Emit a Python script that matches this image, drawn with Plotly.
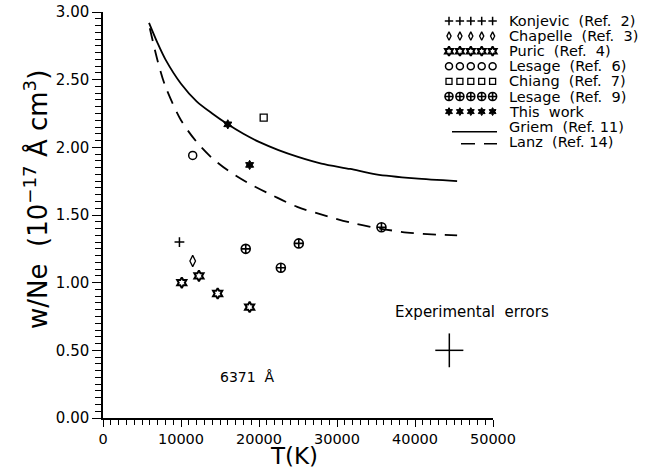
import plotly.graph_objects as go

# ---------------- data ----------------
konjevic_T = [9800]
konjevic_w = [1.30]
chapelle_T = [11500]
chapelle_w = [1.16]
puric_T = [10100, 12300, 14700, 18800]
puric_w = [1.00, 1.05, 0.92, 0.82]
lesage6_T = [11500]
lesage6_w = [1.94]
chiang_T = [20600]
chiang_w = [2.22]
lesage9_T = [18300, 22800, 25100, 35700]
lesage9_w = [1.25, 1.11, 1.29, 1.41]
thiswork_T = [16000, 18800]
thiswork_w = [2.17, 1.87]

griem_T = [5900, 7000, 8000, 10000, 12000, 14000, 16000, 18000, 20000, 22500, 25000, 28000, 31700, 35000, 40000, 45400]
griem_w = [2.92, 2.77, 2.65, 2.47, 2.34, 2.25, 2.17, 2.10, 2.04, 1.98, 1.93, 1.88, 1.84, 1.80, 1.77, 1.75]
lanz_T = [6000, 7000, 8000, 10000, 12000, 14000, 16000, 18500, 21900, 24900, 28800, 32000, 35500, 39000, 42800, 45400]
lanz_w = [2.88, 2.64, 2.45, 2.20, 2.04, 1.92, 1.83, 1.74, 1.64, 1.56, 1.49, 1.44, 1.40, 1.37, 1.355, 1.35]

err_T = [44400]
err_w = [0.50]
err_dT = [1800]
err_dw = [0.125]

legend_labels = [
    "Konjevic\u00a0\u00a0(Ref.\u00a0\u00a02)",
    "Chapelle\u00a0\u00a0(Ref.\u00a0\u00a03)",
    "Puric\u00a0\u00a0(Ref.\u00a0\u00a04)",
    "Lesage\u00a0\u00a0(Ref.\u00a0\u00a06)",
    "Chiang\u00a0\u00a0(Ref.\u00a0\u00a07)",
    "Lesage\u00a0\u00a0(Ref.\u00a0\u00a09)",
    "This\u00a0\u00a0work",
    "Griem\u00a0\u00a0(Ref.\u00a011)",
    "Lanz\u00a0\u00a0(Ref.\u00a014)",
]

# ---------------- layout constants ----------------
W, H = 667, 471
ML, MR, MT, MB = 103, 174, 12, 53
PX0, PX1 = ML, W - MR
PY0, PY1 = H - MB, MT
FONT = "DejaVu Sans"
BLACK = "black"

def px_to_paper_x(px):
    return (px - PX0) / (PX1 - PX0)

def px_to_paper_y(py):
    return (PY0 - py) / (PY0 - PY1)

styles = [
    dict(symbol="cross-thin-open", size=7, line=dict(width=1.5, color=BLACK), color=BLACK),
    dict(symbol="diamond-tall-open", size=8, line=dict(width=1.3, color=BLACK), color=BLACK),
    dict(symbol="hexagram-open", size=8, line=dict(width=2, color=BLACK), color=BLACK),
    dict(symbol="circle-open", size=8, line=dict(width=1.5, color=BLACK), color=BLACK),
    dict(symbol="square-open", size=7, line=dict(width=1.3, color=BLACK), color=BLACK),
    dict(symbol="circle-cross-open", size=9, line=dict(width=1.6, color=BLACK), color=BLACK),
    dict(symbol="hexagram", size=7, line=dict(width=1, color=BLACK), color=BLACK),
]
legend_sizes = [6, 6, 7, 7, 6, 8, 6]

series = [
    (konjevic_T, konjevic_w),
    (chapelle_T, chapelle_w),
    (puric_T, puric_w),
    (lesage6_T, lesage6_w),
    (chiang_T, chiang_w),
    (lesage9_T, lesage9_w),
    (thiswork_T, thiswork_w),
]

fig = go.Figure()

fig.add_trace(go.Scatter(x=griem_T, y=griem_w, mode="lines",
                         line=dict(color=BLACK, width=1.8, shape="spline", smoothing=0.8),
                         showlegend=False, hoverinfo="skip"))
fig.add_trace(go.Scatter(x=lanz_T, y=lanz_w, mode="lines",
                         line=dict(color=BLACK, width=1.8, shape="spline", smoothing=0.8, dash="13px,9px"),
                         showlegend=False, hoverinfo="skip"))

for (xs, ys), st in zip(series, styles):
    fig.add_trace(go.Scatter(x=xs, y=ys, mode="markers", marker=st,
                             showlegend=False, cliponaxis=False))

# experimental error cross
fig.add_trace(go.Scatter(x=err_T, y=err_w, mode="markers",
                         marker=dict(size=1, color="rgba(0,0,0,0)"),
                         error_x=dict(type="data", array=err_dT, width=0, thickness=1.5, color=BLACK),
                         error_y=dict(type="data", array=err_dw, width=0, thickness=1.5, color=BLACK),
                         showlegend=False))

# ---------------- hand-drawn legend (overlay axes in pixel units) ----------------
row_y0, row_dy = 21, 15.1
mk_x0, mk_dx = 449, 10.9
text_x = 507
for i, st in enumerate(styles):
    ry = row_y0 + i * row_dy
    lst = dict(st)
    lst["size"] = legend_sizes[i]
    fig.add_trace(go.Scatter(x=[mk_x0 + k * mk_dx for k in range(5)], y=[ry] * 5,
                             xaxis="x2", yaxis="y2", mode="markers", marker=lst,
                             showlegend=False, cliponaxis=False, hoverinfo="skip"))

annotations = []
for i, lab in enumerate(legend_labels):
    ry = row_y0 + i * row_dy
    annotations.append(dict(x=px_to_paper_x(text_x), y=px_to_paper_y(ry), xref="paper", yref="paper",
                            text=lab, showarrow=False, xanchor="left", yanchor="middle",
                            font=dict(family=FONT, size=14.5, color=BLACK)))

shapes = [
    dict(type="line", xref="paper", yref="paper",
         x0=px_to_paper_x(452), x1=px_to_paper_x(497),
         y0=px_to_paper_y(row_y0 + 7 * row_dy + 5), y1=px_to_paper_y(row_y0 + 7 * row_dy + 5),
         line=dict(color=BLACK, width=1.5)),
    dict(type="line", xref="paper", yref="paper",
         x0=px_to_paper_x(461), x1=px_to_paper_x(497),
         y0=px_to_paper_y(row_y0 + 8 * row_dy + 2), y1=px_to_paper_y(row_y0 + 8 * row_dy + 2),
         line=dict(color=BLACK, width=1.5, dash="14px,9px")),
]

annotations += [
    dict(x=18500, y=0.30, xref="x", yref="y", text="6371\u00a0\u00a0Å", showarrow=False,
         xanchor="center", yanchor="middle",
         font=dict(family=FONT, size=14, color=BLACK)),
    dict(x=47300, y=0.78, xref="x", yref="y", text="Experimental\u00a0\u00a0errors", showarrow=False,
         xanchor="center", yanchor="middle",
         font=dict(family=FONT, size=15, color=BLACK)),
    dict(x=px_to_paper_x(36), y=px_to_paper_y(200), xref="paper", yref="paper", textangle=-90,
         xanchor="center", yanchor="middle",
         text="w/Ne\u00a0\u00a0(10<sup>\u221217</sup>\u00a0Å\u00a0cm<sup>3</sup>)", showarrow=False,
         font=dict(family=FONT, size=26, color=BLACK)),
    dict(x=px_to_paper_x(294), y=px_to_paper_y(471), xref="paper", yref="paper",
         xanchor="center", yanchor="bottom",
         text="T(K)", showarrow=False, font=dict(family=FONT, size=23, color=BLACK)),
]

fig.update_layout(
    width=W, height=H,
    margin=dict(l=ML, r=MR, t=MT, b=MB, pad=0, autoexpand=False),
    paper_bgcolor="white", plot_bgcolor="white",
    showlegend=False,
    font=dict(family=FONT, color=BLACK),
    xaxis=dict(range=[0, 50000], tickvals=[0, 10000, 20000, 30000, 40000, 50000], automargin=False,
               tickformat="d", ticks="outside", ticklen=7, tickwidth=1.3, tickcolor=BLACK,
               minor=dict(dtick=1000, ticks="outside", ticklen=5, tickwidth=1, tickcolor=BLACK),
               showline=True, linecolor=BLACK, linewidth=1.5, showgrid=False, zeroline=False,
               tickfont=dict(family=FONT, size=14.5, color=BLACK)),
    yaxis=dict(range=[0, 3], tickvals=[0, 0.5, 1.0, 1.5, 2.0, 2.5, 3.0], tickformat=".2f", automargin=False,
               ticks="outside", ticklen=9, tickwidth=1.3, tickcolor=BLACK,
               minor=dict(dtick=0.05, ticks="outside", ticklen=6, tickwidth=1, tickcolor=BLACK),
               showline=True, linecolor=BLACK, linewidth=1.5, showgrid=False, zeroline=False,
               tickfont=dict(family=FONT, size=15, color=BLACK)),
    xaxis2=dict(overlaying="x", range=[PX0, PX1], visible=False, automargin=False),
    yaxis2=dict(overlaying="y", range=[PY0, PY1], visible=False, automargin=False),
    annotations=annotations,
    shapes=shapes,
)

fig.write_html("out.html")
